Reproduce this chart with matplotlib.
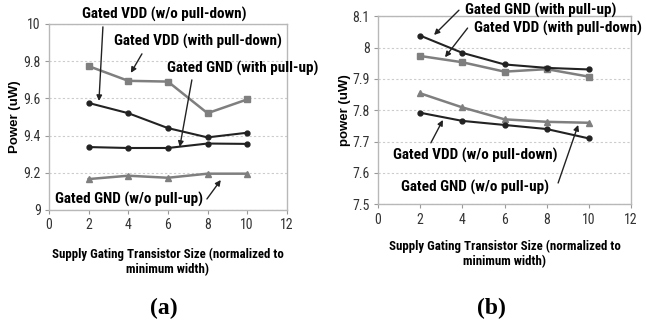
import matplotlib.pyplot as plt

# transistor sizes (normalized to minimum width)
sizes = [2, 4, 6, 8, 10]

# panel (a) power, uW
a_vdd_wo = [9.575, 9.52, 9.44, 9.39, 9.415]
a_vdd_with = [9.773, 9.694, 9.69, 9.52, 9.594]
a_gnd_with = [9.338, 9.333, 9.333, 9.357, 9.355]
a_gnd_wo = [9.166, 9.184, 9.173, 9.195, 9.195]

# panel (b) power, uW
b_gnd_with = [8.038, 7.983, 7.946, 7.935, 7.93]
b_vdd_with = [7.973, 7.953, 7.923, 7.931, 7.907]
b_vdd_wo = [7.854, 7.809, 7.771, 7.763, 7.76]
b_gnd_wo = [7.792, 7.766, 7.753, 7.74, 7.71]

BLACK = "#222222"
GRAY = "#7f7f7f"
NARROW = ["Liberation Sans Narrow", "Roboto Condensed", "Archivo Narrow", "DejaVu Sans"]
SANS = ["Liberation Sans", "DejaVu Sans"]
SERIF = ["Liberation Serif", "DejaVu Serif"]
xlabel = "Supply Gating Transistor Size (normalized to\nminimum width)"

fig = plt.figure(figsize=(6.46, 3.23), dpi=100)
ax_a = fig.add_axes([0.0759, 0.35, 0.368, 0.576])
ax_b = fig.add_axes([0.585, 0.3675, 0.392, 0.5825])


def style(ax, ylim, yticks, ylabel, ylab_x, xlab_y):
    ax.set_xlim(0, 12)
    ax.set_xticks(range(0, 13, 2))
    ax.set_ylim(*ylim)
    ax.set_yticks(yticks)
    ax.set_yticklabels([("%g" % t) for t in yticks], family=NARROW, fontsize=10,
                       color="#333333")
    ax.set_xticklabels([str(t) for t in range(0, 13, 2)], family=NARROW, fontsize=10,
                       color="#333333")
    for s in ax.spines.values():
        s.set_color("#b8b8b8")
        s.set_linewidth(1.0)
    ax.tick_params(length=3, color="#999999", width=0.8, pad=3)
    ax.grid(axis="y", linestyle=(0, (2, 2)), color="#cccccc", linewidth=0.8)
    ax.set_axisbelow(True)
    ax.set_xlabel(xlabel, family=NARROW, fontsize=9.3, fontweight="bold",
                  linespacing=1.2, va="top")
    ax.xaxis.set_label_coords(0.5, xlab_y)
    ax.set_ylabel(ylabel, family=SANS, fontsize=9.5, fontweight="bold", va="center")
    ax.yaxis.set_label_coords(ylab_x, 0.5)


def note(ax, text, txy, tail, head):
    ax.text(txy[0], txy[1], text, ha="center", va="center", family=NARROW,
            fontsize=11, fontweight="bold", clip_on=False)
    ax.annotate("", xy=head, xytext=tail, annotation_clip=False,
                arrowprops=dict(arrowstyle="-|>", color=BLACK, lw=1.0,
                                mutation_scale=8, shrinkA=0, shrinkB=0))


# panel (a)
ax_a.plot(sizes, a_vdd_with, color=GRAY, marker="s", ms=4.5, lw=1.8)
ax_a.plot(sizes, a_vdd_wo, color=BLACK, marker="o", ms=3.5, lw=1.5)
ax_a.plot(sizes, a_gnd_with, color=BLACK, marker="o", ms=3.5, lw=1.5)
ax_a.plot(sizes, a_gnd_wo, color=GRAY, marker="^", ms=4.5, lw=1.8)
style(ax_a, (9, 10), [9, 9.2, 9.4, 9.6, 9.8, 10], "Power (uW)", -0.143, -0.205)
note(ax_a, "Gated VDD (w/o pull-down)", (5.8, 10.048), (2.72, 9.984), (2.52, 9.586))
note(ax_a, "Gated VDD (with pull-down)", (7.51, 9.903), (4.69, 9.839), (4.13, 9.737))
note(ax_a, "Gated GND (with pull-up)", (9.78, 9.763), (7.21, 9.699), (6.6, 9.339))
note(ax_a, "Gated GND (w/o pull-up)", (4.03, 9.054), (7.97, 9.059), (8.67, 9.161))

# panel (b)
ax_b.plot(sizes, b_vdd_with, color=GRAY, marker="s", ms=4.5, lw=1.8)
ax_b.plot(sizes, b_vdd_wo, color=GRAY, marker="^", ms=4.5, lw=1.8)
ax_b.plot(sizes, b_gnd_with, color=BLACK, marker="o", ms=3.5, lw=1.5)
ax_b.plot(sizes, b_gnd_wo, color=BLACK, marker="o", ms=3.5, lw=1.5)
style(ax_b, (7.5, 8.1), [7.5, 7.6, 7.7, 7.8, 7.9, 8.0, 8.1], "power (uW)", -0.13, -0.19)
note(ax_b, "Gated GND (with pull-up)", (7.71, 8.119), (3.84, 8.119), (2.66, 8.04))
note(ax_b, "Gated VDD (with pull-down)", (8.54, 8.062), (4.25, 8.062), (3.18, 7.969))
note(ax_b, "Gated VDD (w/o pull-down)", (4.63, 7.657), (2.51, 7.696), (3.08, 7.769))
note(ax_b, "Gated GND (w/o pull-up)", (4.59, 7.555), (8.54, 7.568), (9.49, 7.753))

# captions
fig.text(164 / 646, 1 - 308 / 323, "(a)", ha="center", va="center",
         family=SERIF, fontsize=17, fontweight="bold")
fig.text(491 / 646, 1 - 308 / 323, "(b)", ha="center", va="center",
         family=SERIF, fontsize=17, fontweight="bold")

fig.savefig("out.png", dpi=100)
